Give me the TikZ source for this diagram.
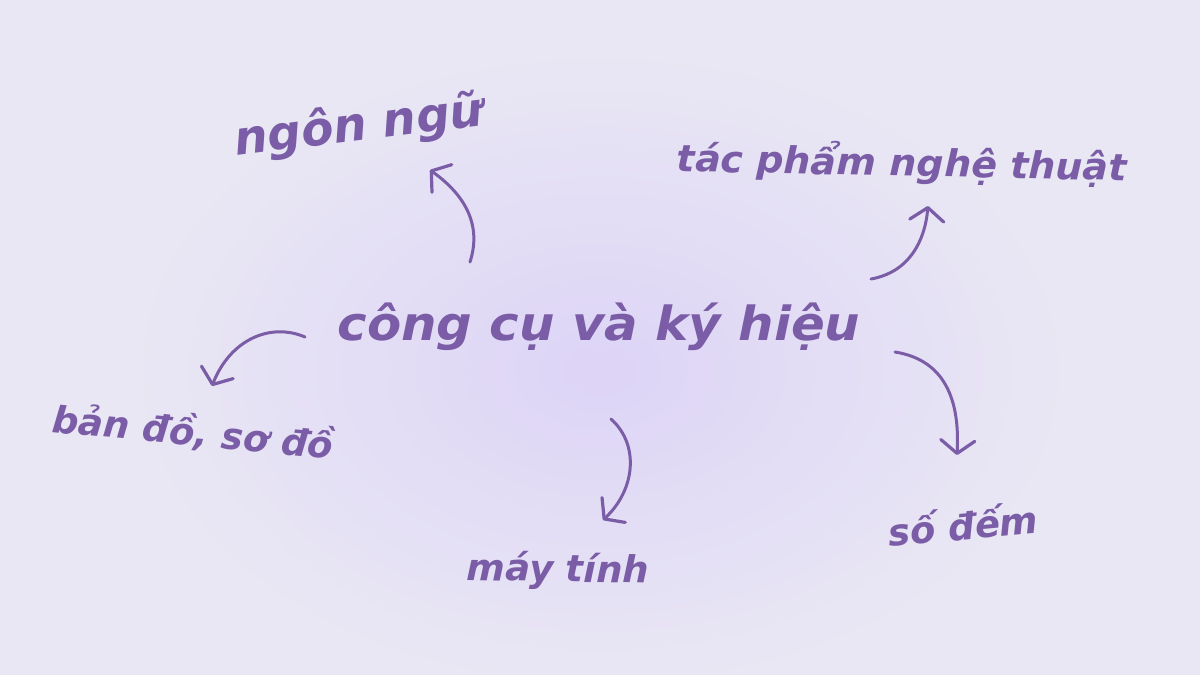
\documentclass[tikz,border=0pt]{standalone}
\usepackage{fontspec}
\IfFontExistsTF{DejaVu Sans Bold Oblique}
  {\newfontfamily\labfont{DejaVu Sans Bold Oblique}}
  {\newfontfamily\labfont{DejaVu Sans}[FakeBold=2,FakeSlant=0.2]}
\usetikzlibrary{arrows.meta}
\definecolor{bgout}{RGB}{233,231,244}
\definecolor{bgin}{RGB}{221,212,246}
\definecolor{ink}{RGB}{122,93,166}
\tikzset{
  lbl/.style={text=ink, inner sep=0pt},
  big/.style={lbl, font=\labfont\fontsize{47}{52}\selectfont},
  mid/.style={lbl, font=\labfont\fontsize{37}{42}\selectfont},
  conn/.style={draw=ink, line width=3pt, line cap=round,
    -{Straight Barb[length=13pt,width=34pt,line width=3.2pt,round]}}
}
\begin{document}
\begin{tikzpicture}[x=1pt,y=-1pt]
\fill[bgout] (0,0) rectangle (1200,675);
\useasboundingbox (0,0) rectangle (1200,675);
\shade[inner color=bgin, outer color=bgout] (600,370) ellipse (470 and 320);

\node[big, xscale=1.06] (c) at (599,327) {công cụ và ký hiệu};
\node[big, rotate=7] (a) at (359,127) {ngôn ngữ};
\node[mid, xscale=1.03, rotate=-1.2] (b) at (902,163) {tác phẩm nghệ thuật};
\node[mid, rotate=-5.5] (d) at (193,432) {bản đồ, sơ đồ};
\node[mid, rotate=-1] (e) at (558,571) {máy tính};
\node[mid, rotate=5.3] (f) at (963,524) {số đếm};

\coordinate (a1) at (470,262); \coordinate (a2) at (430,170);
\coordinate (b1) at (871,279); \coordinate (b2) at (928,206);
\coordinate (d1) at (305,337); \coordinate (d2) at (212,386);
\coordinate (e1) at (611,419); \coordinate (e2) at (603,520);
\coordinate (f1) at (895,352); \coordinate (f2) at (957,455);

\draw[conn] (a1) .. controls (482,225) and (465,195) .. (a2);
\draw[conn] (b1) .. controls (910,272) and (925,240) .. (b2);
\draw[conn] (d1) .. controls (270,322) and (230,340) .. (d2);
\draw[conn] (e1) .. controls (640,445) and (635,490) .. (e2);
\draw[conn] (f1) .. controls (945,360) and (960,400) .. (f2);
\end{tikzpicture}
\end{document}
